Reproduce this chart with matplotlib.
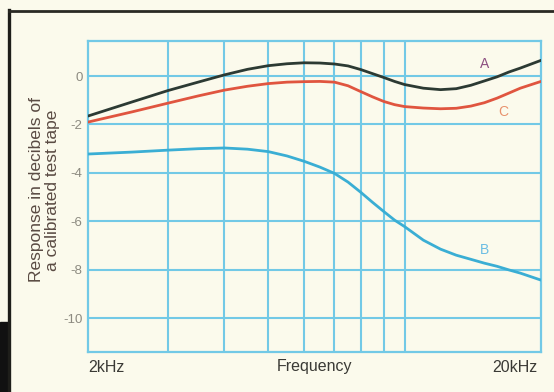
import matplotlib
matplotlib.use("Agg")
import matplotlib.pyplot as plt
from matplotlib.lines import Line2D
from matplotlib.patches import Rectangle

plt.rcParams['font.family'] = ['Liberation Sans', 'DejaVu Sans']

# Frequency points (kHz) and responses (dB)
freq_khz = [2, 2.5, 3, 3.5, 4, 4.5, 5, 5.5, 6, 6.5, 7, 7.5, 8, 8.5, 9, 9.5,
            10, 11, 12, 13, 14, 15, 16, 17, 18, 20]
resp_a = [-1.65, -1.07, -0.6, -0.25, 0.05, 0.28, 0.43, 0.51, 0.55, 0.54, 0.5,
          0.42, 0.27, 0.1, -0.06, -0.22, -0.35, -0.5, -0.56, -0.52, -0.38, -0.2,
          -0.03, 0.17, 0.33, 0.65]
resp_c = [-1.9, -1.48, -1.12, -0.82, -0.58, -0.42, -0.31, -0.25, -0.23, -0.22,
          -0.25, -0.4, -0.64, -0.86, -1.05, -1.18, -1.26, -1.32, -1.35, -1.33,
          -1.24, -1.1, -0.91, -0.7, -0.5, -0.22]
resp_b = [-3.22, -3.14, -3.06, -3.0, -2.97, -3.02, -3.12, -3.3, -3.52, -3.76,
          -4.02, -4.38, -4.8, -5.22, -5.6, -5.95, -6.22, -6.78, -7.15, -7.4,
          -7.57, -7.73, -7.86, -8.01, -8.14, -8.43]

grid_freqs = [3, 4, 5, 6, 7, 8, 9, 10]
y_ticks = [0, -2, -4, -6, -8, -10]
y_tick_labels = ["0", "-2", "-4", "-6", "-8", "-10"]

bg = '#fbfaec'
grid_col = '#72c9e6'

fig = plt.figure(figsize=(5.54, 3.92), dpi=100, facecolor=bg)
ax = fig.add_axes([88/554, 1-352/392, (541-88)/554, (352-41)/392])
ax.set_facecolor(bg)
ax.set_xscale('log')
ax.set_xlim(2, 20)
ax.set_ylim(-11.4, 1.45)

for f in grid_freqs:
    ax.axvline(f, color=grid_col, lw=1.5, zorder=1)
for y in y_ticks:
    ax.axhline(y, color=grid_col, lw=1.5, zorder=1)
for s in ax.spines.values():
    s.set_color(grid_col)
    s.set_linewidth(1.6)

ax.plot(freq_khz, resp_b, color='#3aaed4', lw=2.0, solid_capstyle='round',
        solid_joinstyle='round', zorder=3)
ax.plot(freq_khz, resp_c, color='#e0553f', lw=2.0, solid_capstyle='round',
        solid_joinstyle='round', zorder=3)
ax.plot(freq_khz, resp_a, color='#2c3a33', lw=2.0, solid_capstyle='round',
        solid_joinstyle='round', zorder=4)

ax.text(15.0, 0.52, 'A', color='#8c4f80', fontsize=10, ha='center', va='center')
ax.text(16.5, -1.5, 'C', color='#e8916c', fontsize=10, ha='center', va='center')
ax.text(15.0, -7.17, 'B', color='#6bbde3', fontsize=10, ha='center', va='center')

ax.set_xticks([])
ax.set_yticks(y_ticks)
ax.set_yticklabels(y_tick_labels, color='#8c8a80', fontsize=9.5)
ax.tick_params(axis='y', length=0, pad=4)
ax.xaxis.set_minor_locator(matplotlib.ticker.NullLocator())
ax.yaxis.set_minor_locator(matplotlib.ticker.NullLocator())

fig.text(37/554, 1-190/392, 'Response in decibels of', rotation=90,
         ha='center', va='center', fontsize=12.5, color='#5a4b43')
fig.text(53/554, 1-190/392, 'a calibrated test tape', rotation=90,
         ha='center', va='center', fontsize=12.5, color='#5a4b43')

fig.text(88/554, 1-367/392, '2kHz', ha='left', va='center', fontsize=11.5, color='#3a3a35')
fig.text(315/554, 1-367/392, 'Frequency', ha='center', va='center', fontsize=11.5, color='#3a3a35')
fig.text(537/554, 1-367/392, '20kHz', ha='right', va='center', fontsize=11.5, color='#3a3a35')

# Outer frame
fig.add_artist(Line2D([9/554, 9/554], [0, 1-10/392], color='#1e1e1a', lw=2.4,
                      transform=fig.transFigure))
fig.add_artist(Line2D([9/554, 1], [1-11/392, 1-11/392], color='#2a2a24', lw=2.0,
                      transform=fig.transFigure))
fig.add_artist(Rectangle((0, 0), 9/554, 70/392, color='#111111',
                         transform=fig.transFigure))

fig.savefig('out.png', dpi=100, facecolor=bg)
